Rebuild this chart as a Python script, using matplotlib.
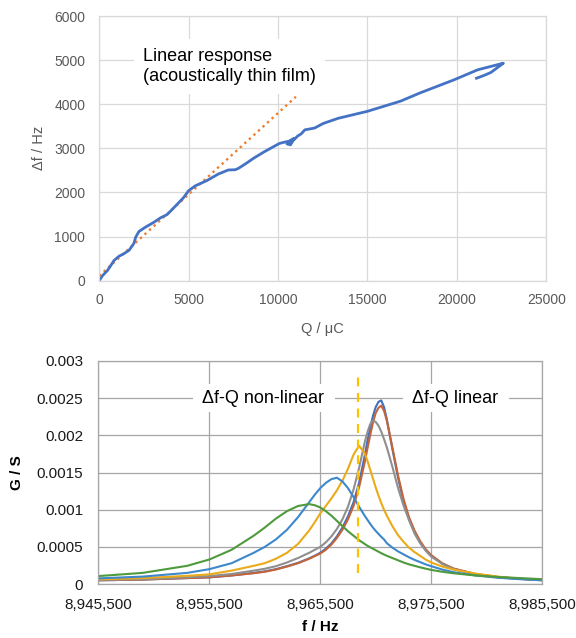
import matplotlib
matplotlib.use("Agg")
import matplotlib.pyplot as plt
from matplotlib.ticker import FuncFormatter, MultipleLocator, FixedLocator

plt.rcParams['font.family'] = ['Liberation Sans', 'DejaVu Sans']

# --- top chart: frequency shift vs charge ---
charge_uc = [0, 185, 460, 650, 830, 1110, 1390, 1670, 1940, 2040, 2220, 2590, 3060,
             3430, 3800, 4260, 4720, 5000, 5370, 6020, 6670, 7220, 7600, 7800, 8220,
             8630, 9240, 10070, 10350, 10600, 10900, 10700, 10500, 10800, 11100,
             11300, 11500, 12040, 12530, 13350, 15000, 16850, 17960, 19820, 21160,
             22400, 22600, 22300, 21900, 21500, 21100]
dfreq_hz = [0, 115, 230, 345, 460, 555, 615, 690, 845, 985, 1115, 1215, 1325,
            1425, 1500, 1690, 1885, 2040, 2150, 2270, 2420, 2510, 2515, 2550, 2660,
            2775, 2925, 3110, 3140, 3160, 3230, 3080, 3100, 3160, 3280,
            3330, 3420, 3460, 3565, 3680, 3840, 4070, 4260, 4550, 4780,
            4910, 4930, 4840, 4720, 4650, 4590]
linear_q = [0, 11000]
linear_df = [110, 4170]

# --- bottom chart: conductance spectra ---
freq_hz = [8945500, 8949500, 8953500, 8955500, 8957500, 8959500, 8960500, 8961500,
           8962500, 8963500, 8964500, 8965000, 8965500, 8966000, 8966500, 8967000,
           8967500, 8968000, 8968500, 8969000, 8969500, 8969750, 8970000, 8970250,
           8970500, 8970750, 8971000, 8971250, 8971500, 8972000, 8972500, 8973000,
           8973500, 8974000, 8974500, 8975000, 8975500, 8976500, 8977500, 8979500,
           8981500, 8983500, 8985500]
# conductance in mS
g_blue2 = [0.05, 0.06, 0.08, 0.09, 0.115, 0.15, 0.17, 0.2, 0.24, 0.285, 0.345, 0.38,
           0.42, 0.475, 0.545, 0.64, 0.76, 0.91, 1.1, 1.36, 1.72, 1.92, 2.1, 2.26,
           2.38, 2.45, 2.47, 2.38, 2.22, 1.82, 1.44, 1.12, 0.88, 0.7, 0.56, 0.46,
           0.38, 0.275, 0.205, 0.133, 0.093, 0.07, 0.055]
g_orange = [0.05, 0.06, 0.08, 0.09, 0.115, 0.145, 0.165, 0.195, 0.235, 0.28, 0.34,
            0.375, 0.41, 0.46, 0.53, 0.62, 0.73, 0.87, 1.05, 1.3, 1.63, 1.82, 2.0,
            2.17, 2.3, 2.37, 2.4, 2.33, 2.2, 1.84, 1.47, 1.15, 0.9, 0.72, 0.58, 0.47,
            0.39, 0.28, 0.21, 0.135, 0.095, 0.07, 0.055]
g_gray = [0.055, 0.065, 0.09, 0.107, 0.135, 0.18, 0.205, 0.24, 0.29, 0.35, 0.42, 0.46,
          0.5, 0.56, 0.64, 0.74, 0.87, 1.04, 1.27, 1.56, 1.9, 2.04, 2.15, 2.2, 2.18,
          2.13, 2.05, 1.95, 1.84, 1.58, 1.3, 1.06, 0.86, 0.68, 0.55, 0.45, 0.37,
          0.27, 0.2, 0.13, 0.09, 0.07, 0.055]
g_yellow = [0.063, 0.08, 0.11, 0.13, 0.18, 0.245, 0.28, 0.34, 0.42, 0.54, 0.72, 0.83,
            0.95, 1.05, 1.15, 1.26, 1.39, 1.55, 1.74, 1.86, 1.76, 1.66, 1.54, 1.42,
            1.3, 1.19, 1.09, 1.0, 0.92, 0.78, 0.66, 0.57, 0.49, 0.43, 0.38, 0.33,
            0.29, 0.235, 0.195, 0.14, 0.1, 0.07, 0.05]
g_blue1 = [0.076, 0.1, 0.15, 0.2, 0.28, 0.42, 0.5, 0.6, 0.73, 0.9, 1.1, 1.2, 1.29,
           1.36, 1.41, 1.43, 1.38, 1.29, 1.17, 1.04, 0.92, 0.865, 0.81, 0.76, 0.715,
           0.675, 0.635, 0.6, 0.55, 0.49, 0.44, 0.4, 0.36, 0.325, 0.295, 0.265, 0.24,
           0.195, 0.16, 0.115, 0.085, 0.065, 0.05]
g_green = [0.107, 0.15, 0.245, 0.33, 0.46, 0.65, 0.76, 0.88, 0.98, 1.05, 1.075, 1.06,
           1.03, 0.98, 0.92, 0.85, 0.78, 0.71, 0.65, 0.59, 0.54, 0.515, 0.495, 0.475,
           0.455, 0.435, 0.415, 0.397, 0.38, 0.35, 0.32, 0.29, 0.265, 0.245, 0.225,
           0.207, 0.19, 0.165, 0.145, 0.115, 0.095, 0.08, 0.065]
boundary_hz = 8968900
freq_ticks = [8945500, 8955500, 8965500, 8975500, 8985500]

spectra = [(g_blue2, '#4070C0'), (g_orange, '#C4643A'), (g_gray, '#8F8F8F'),
           (g_yellow, '#EAAA1A'), (g_blue1, '#3D88CC'), (g_green, '#4E9A3C')]

fig = plt.figure(figsize=(5.76, 6.38), dpi=100)

# top plot
ax1 = fig.add_axes([0.1722, 0.56, 0.7762, 0.4149])
ax1.plot(linear_q, linear_df, color='#ED7D31', lw=1.7, linestyle=(0, (1, 1.6)))
ax1.plot(charge_uc, dfreq_hz, color='#4472C4', lw=2.0)
ax1.set_xlim(0, 25000)
ax1.set_ylim(0, 6000)
ax1.xaxis.set_major_locator(MultipleLocator(5000))
ax1.yaxis.set_major_locator(MultipleLocator(1000))
ax1.grid(True, color='#D9D9D9', lw=0.9)
ax1.set_axisbelow(True)
for s in ax1.spines.values():
    s.set_color('#D9D9D9')
    s.set_linewidth(0.9)
ax1.tick_params(length=0, labelsize=10, labelcolor='#595959')
ax1.tick_params(axis='x', pad=9)
ax1.tick_params(axis='y', pad=10)
ax1.set_xlabel('Q / μC', fontsize=10.5, color='#595959', labelpad=11)
ax1.set_ylabel('Δf / Hz', fontsize=10.5, color='#595959', labelpad=6)
ax1.text(2450, 4860, 'Linear response\n(acoustically thin film)', fontsize=13,
         ha='left', va='center', linespacing=1.2,
         bbox=dict(boxstyle='square,pad=0.5', fc='white', ec='none'))

# bottom plot
ax2 = fig.add_axes([0.171, 0.0846, 0.770, 0.3496])
for g, c in spectra:
    ax2.plot(freq_hz, [v / 1000 for v in g], color=c, lw=1.5)
ax2.vlines(boundary_hz, 0.00015, 0.0028, color='#FFC000', lw=1.6,
           linestyle=(0, (4, 3)))
ax2.set_xlim(8945500, 8985500)
ax2.set_ylim(0, 0.003)
ax2.xaxis.set_major_locator(FixedLocator(freq_ticks))
ax2.yaxis.set_major_locator(MultipleLocator(0.0005))
ax2.xaxis.set_major_formatter(FuncFormatter(lambda v, p: f'{v:,.0f}'))
ax2.yaxis.set_major_formatter(FuncFormatter(lambda v, p: f'{v:g}'))
ax2.grid(True, color='#A6A6A6', lw=0.9)
ax2.set_axisbelow(True)
for s in ax2.spines.values():
    s.set_color('#A6A6A6')
    s.set_linewidth(0.9)
ax2.tick_params(length=0, labelsize=11, labelcolor='#1A1A1A', pad=11)
ax2.tick_params(axis='x', pad=10)
ax2.set_xlabel('f / Hz', fontsize=11, fontweight='bold', labelpad=6)
ax2.set_ylabel('G / S', fontsize=11, fontweight='bold', labelpad=9)
box = dict(boxstyle='square,pad=0.3', fc='white', ec='none')
ax2.text(8960400, 0.0025, ' Δf-Q non-linear ', fontsize=13, ha='center',
         va='center', bbox=box)
ax2.text(8977700, 0.0025, ' Δf-Q linear ', fontsize=13, ha='center',
         va='center', bbox=box)

fig.savefig('out.png', dpi=100)
